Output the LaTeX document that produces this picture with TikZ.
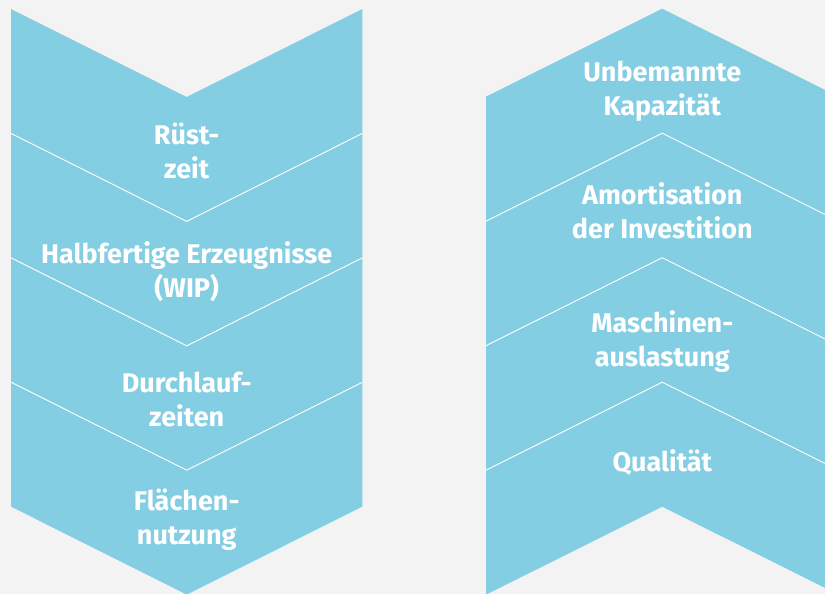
\documentclass[tikz,border=0pt]{standalone}
\usepackage{fontspec}
\setmainfont{Fira Sans}
\definecolor{bandblue}{HTML}{84CEE3}
\definecolor{bggray}{HTML}{F3F3F3}
\begin{document}
\begin{tikzpicture}[x=1pt,y=-1pt,
  band/.style={fill=bandblue,draw=none},
  sep/.style={draw=white,line width=0.9pt},
  lbl/.style={text=white,inner sep=0pt,anchor=base,
    font=\fontsize{27}{34}\selectfont\bfseries}]
\useasboundingbox (0,0) rectangle (825,594);
\fill[bggray] (0,0) rectangle (825,594);
\clip (0,0) rectangle (825,594);
% left column (chevrons pointing down)
\path[band] (11,9) -- (186.7,97) -- (362.4,9) -- (362.4,506.6) -- (186.7,594.6) -- (11,506.6) -- cycle;
\foreach \t in {133.4,257.8,382.2}{
  \draw[sep] (11,\t) -- (186.7,\t+88) -- (362.4,\t);
}
% right column (chevrons pointing up)
\path[band] (486,96.7) -- (662.3,8.7) -- (838.6,96.7) -- (838.6,594.7) -- (662.3,506.7) -- (486,594.7) -- cycle;
\foreach \v in {133.2,257.7,382.2}{
  \draw[sep] (486,\v+88) -- (662.3,\v) -- (838.6,\v+88);
}
% labels
\newcommand{\twolines}[2]{{\setlength{\tabcolsep}{0pt}\begin{tabular}[t]{c}#1\\#2\end{tabular}}}
\node[lbl] (l1) at (186.7,144) {\twolines{Rüst-}{zeit}};
\node[lbl] (l2) at (186.7,263) {\twolines{Halbfertige Erzeugnisse}{(WIP)}};
\node[lbl] (l3) at (186.7,392.7) {\twolines{Durchlauf-}{zeiten}};
\node[lbl] (l4) at (186.7,510) {\twolines{Flächen-}{nutzung}};
\node[lbl] (r1) at (662.3,81.7) {\twolines{Unbemannte}{Kapazität}};
\node[lbl] (r2) at (662.3,204) {\twolines{Amortisation}{der Investition}};
\node[lbl] (r3) at (662.3,332.7) {\twolines{Maschinen-}{auslastung}};
\node[lbl] (r4) at (662.3,471.7) {Qualität};
\end{tikzpicture}
\end{document}
